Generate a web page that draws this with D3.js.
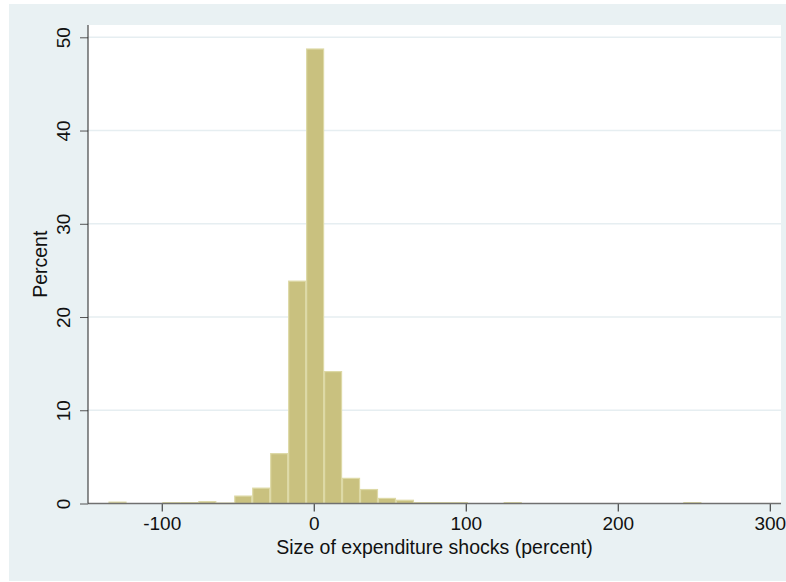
<!DOCTYPE html>
<html>
<head>
<meta charset="utf-8">
<script src="https://cdn.jsdelivr.net/npm/d3@7"></script>
<style>
  html, body { margin: 0; padding: 0; background: #ffffff; }
  svg { display: block; }
  text { font-family: "Liberation Sans", Arial, sans-serif; fill: #111; }
</style>
</head>
<body>
<script>
// Histogram bins: 33 equal-width bins from -135 to 255
const binStart = -135;
const binEnd = 255;
const binPercents = [
  0.2, 0, 0, 0.15, 0.15, 0.25, 0.1, 0.85, 1.7, 5.4,
  23.9, 48.8, 14.2, 2.75, 1.55, 0.6, 0.4, 0.15, 0.15, 0.15,
  0, 0, 0.15, 0, 0, 0, 0, 0, 0, 0,
  0, 0, 0.15
];
const xTicks = [-100, 0, 100, 200, 300];
const yTicks = [0, 10, 20, 30, 40, 50];
const xTitle = "Size of expenditure shocks (percent)";
const yTitle = "Percent";

const W = 786, H = 582;
const plot = { left: 88, right: 781, top: 25, bottom: 503.5 };
const fontFamily = "'Liberation Sans', Arial, sans-serif";
const plainFormat = d => String(d); // ASCII hyphen for negatives

const svg = d3.select("body").append("svg")
  .attr("width", W).attr("height", H);

// graph region background
svg.append("rect")
  .attr("x", 9).attr("y", 4).attr("width", W - 9).attr("height", H - 5)
  .attr("fill", "#e9f1f3");

// plot region
svg.append("rect")
  .attr("x", plot.left).attr("y", plot.top)
  .attr("width", plot.right - plot.left).attr("height", plot.bottom - plot.top)
  .attr("fill", "#ffffff");

const x = d3.scaleLinear().domain([-148.5, 307.4]).range([plot.left, plot.right]);
const y = d3.scaleLinear().domain([0, 51.32]).range([plot.bottom, plot.top]);

// horizontal gridlines
svg.append("g").selectAll("line")
  .data(yTicks.filter(d => d > 0))
  .join("line")
  .attr("x1", plot.left).attr("x2", plot.right)
  .attr("y1", d => y(d)).attr("y2", d => y(d))
  .attr("stroke", "#e6eef1").attr("stroke-width", 1.5);

// bars
const binW = (binEnd - binStart) / binPercents.length;
const bins = binPercents.map((p, i) => ({ x0: binStart + i * binW, x1: binStart + (i + 1) * binW, p }));
svg.append("g").selectAll("rect")
  .data(bins.filter(b => b.p > 0))
  .join("rect")
  .attr("x", d => x(d.x0) + 0.5)
  .attr("width", d => x(d.x1) - x(d.x0) - 1)
  .attr("y", d => y(d.p) + 0.5)
  .attr("height", d => Math.max(0.5, y(0) - y(d.p) - 0.5))
  .attr("fill", "#c9c17f")
  .attr("stroke", "#ddd9a6")
  .attr("stroke-width", 1.2);

// x axis
const xAxis = svg.append("g")
  .attr("transform", `translate(0,${plot.bottom})`)
  .call(d3.axisBottom(x).tickValues(xTicks).tickSize(8).tickPadding(5).tickFormat(plainFormat));
xAxis.select(".domain").remove();
xAxis.append("line")
  .attr("x1", plot.left).attr("x2", plot.right)
  .attr("stroke", "#707070").attr("stroke-width", 1.6);
xAxis.selectAll(".tick line").attr("stroke", "#222");
xAxis.selectAll(".tick text")
  .style("font-size", "19px").attr("fill", "#111")
  .style("font-family", fontFamily);

// y axis
const yAxis = svg.append("g")
  .attr("transform", `translate(${plot.left},0)`)
  .call(d3.axisLeft(y).tickValues(yTicks).tickSize(8).tickFormat(plainFormat));
yAxis.select(".domain").remove();
yAxis.append("line")
  .attr("y1", plot.top).attr("y2", plot.bottom)
  .attr("stroke", "#222").attr("stroke-width", 1);
yAxis.selectAll(".tick line").attr("stroke", "#555");
yAxis.selectAll(".tick text")
  .attr("x", null).attr("dy", null)
  .attr("text-anchor", "middle")
  .attr("transform", "translate(-18,0) rotate(-90)")
  .attr("dy", "0em")
  .style("font-size", "19px").attr("fill", "#111")
  .style("font-family", fontFamily);

// axis titles
svg.append("text")
  .attr("x", (plot.left + plot.right) / 2).attr("y", 554)
  .attr("text-anchor", "middle")
  .style("font-size", "19.5px")
  .text(xTitle);

svg.append("text")
  .attr("transform", `translate(47,${(plot.top + plot.bottom) / 2}) rotate(-90)`)
  .attr("text-anchor", "middle")
  .style("font-size", "19.5px")
  .text(yTitle);
</script>
</body>
</html>
